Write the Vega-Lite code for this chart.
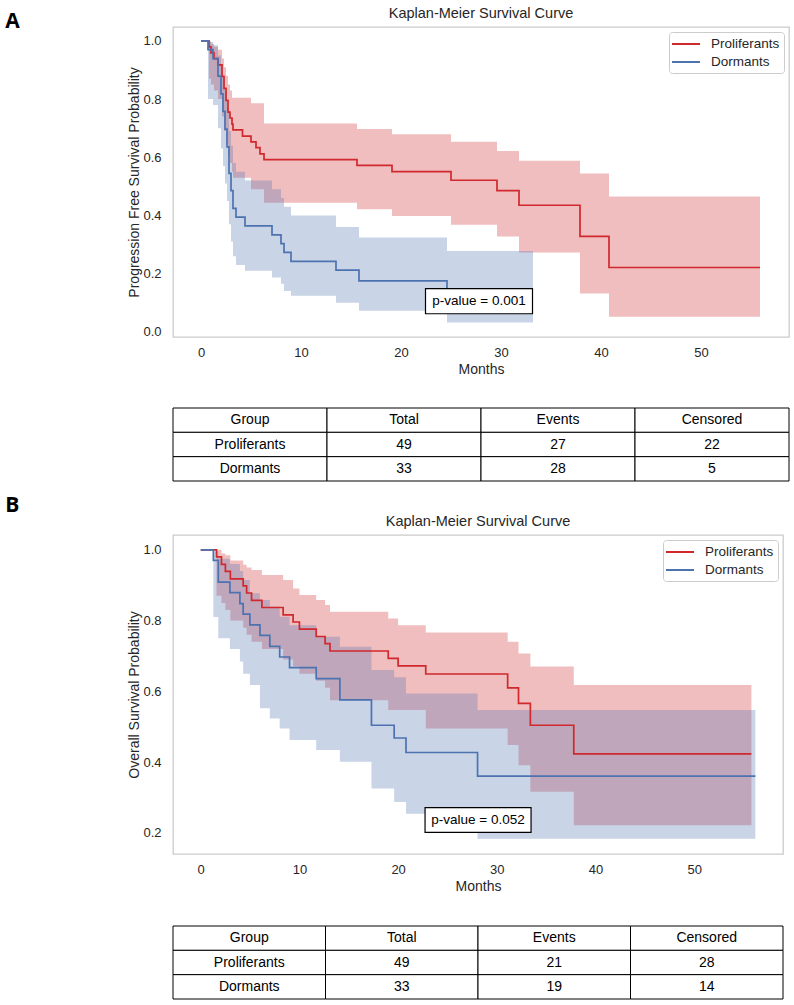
{
  "$schema": "https://vega.github.io/schema/vega-lite/v6.json",
  "background": "white",
  "padding": {"left": 5, "top": 4, "right": 4, "bottom": 5},
  "config": {
    "font": "Liberation Sans",
    "view": {"stroke": "#cccccc", "strokeWidth": 1.3},
    "axis": {"grid": false, "ticks": false, "domain": false, "labelColor": "#262626", "titleColor": "#262626", "labelFontSize": 13, "titleFontSize": 14, "titleFontWeight": "normal", "labelFont": "Liberation Sans", "titleFont": "Liberation Sans"},
    "title": {"fontSize": 14.5, "fontWeight": "normal", "color": "#262626", "font": "Liberation Sans"},
    "legend": {"orient": "top-right", "offset": 5, "padding": 4, "strokeColor": "#cccccc", "fillColor": "white", "cornerRadius": 3, "labelFontSize": 13.5, "labelColor": "#262626", "labelFont": "Liberation Sans", "symbolType": "M-2,0H2", "symbolSize": 196, "symbolStrokeWidth": 2, "symbolOffset": 5, "rowPadding": 3, "labelOffset": 17}
  },
  "resolve": {"scale": {"stroke": "independent", "x": "independent", "y": "independent"}, "legend": {"stroke": "independent"}},
  "datasets": {
    "pfs": [
      {"group": "Proliferants", "month": 0, "surv": 1, "lower": 1, "upper": 1},
      {"group": "Proliferants", "month": 0.8, "surv": 0.980, "lower": 0.87, "upper": 1.0},
      {"group": "Proliferants", "month": 1.0, "surv": 0.959, "lower": 0.85, "upper": 0.99},
      {"group": "Proliferants", "month": 1.3, "surv": 0.939, "lower": 0.83, "upper": 0.98},
      {"group": "Proliferants", "month": 1.7, "surv": 0.918, "lower": 0.80, "upper": 0.97},
      {"group": "Proliferants", "month": 2.1, "surv": 0.878, "lower": 0.74, "upper": 0.94},
      {"group": "Proliferants", "month": 2.3, "surv": 0.837, "lower": 0.69, "upper": 0.91},
      {"group": "Proliferants", "month": 2.5, "surv": 0.796, "lower": 0.65, "upper": 0.88},
      {"group": "Proliferants", "month": 2.7, "surv": 0.755, "lower": 0.61, "upper": 0.85},
      {"group": "Proliferants", "month": 2.9, "surv": 0.735, "lower": 0.58, "upper": 0.83},
      {"group": "Proliferants", "month": 3.1, "surv": 0.714, "lower": 0.55, "upper": 0.805},
      {"group": "Proliferants", "month": 3.2, "surv": 0.694, "lower": 0.53, "upper": 0.805},
      {"group": "Proliferants", "month": 4.15, "surv": 0.673, "lower": 0.53, "upper": 0.805},
      {"group": "Proliferants", "month": 5.0, "surv": 0.653, "lower": 0.49, "upper": 0.786},
      {"group": "Proliferants", "month": 5.5, "surv": 0.633, "lower": 0.49, "upper": 0.786},
      {"group": "Proliferants", "month": 5.9, "surv": 0.612, "lower": 0.49, "upper": 0.786},
      {"group": "Proliferants", "month": 6.3, "surv": 0.592, "lower": 0.444, "upper": 0.716},
      {"group": "Proliferants", "month": 15.6, "surv": 0.572, "lower": 0.421, "upper": 0.697},
      {"group": "Proliferants", "month": 19.1, "surv": 0.551, "lower": 0.398, "upper": 0.679},
      {"group": "Proliferants", "month": 25.0, "surv": 0.521, "lower": 0.368, "upper": 0.653},
      {"group": "Proliferants", "month": 29.6, "surv": 0.485, "lower": 0.328, "upper": 0.622},
      {"group": "Proliferants", "month": 31.8, "surv": 0.435, "lower": 0.273, "upper": 0.588},
      {"group": "Proliferants", "month": 37.9, "surv": 0.328, "lower": 0.132, "upper": 0.544},
      {"group": "Proliferants", "month": 40.8, "surv": 0.221, "lower": 0.052, "upper": 0.465},
      {"group": "Proliferants", "month": 55.9, "surv": 0.221, "lower": 0.052, "upper": 0.465},
      {"group": "Dormants", "month": 0, "surv": 1, "lower": 1, "upper": 1},
      {"group": "Dormants", "month": 0.7, "surv": 0.970, "lower": 0.80, "upper": 0.996},
      {"group": "Dormants", "month": 1.2, "surv": 0.939, "lower": 0.78, "upper": 0.985},
      {"group": "Dormants", "month": 1.7, "surv": 0.879, "lower": 0.70, "upper": 0.95},
      {"group": "Dormants", "month": 2.0, "surv": 0.818, "lower": 0.63, "upper": 0.91},
      {"group": "Dormants", "month": 2.2, "surv": 0.758, "lower": 0.57, "upper": 0.87},
      {"group": "Dormants", "month": 2.4, "surv": 0.697, "lower": 0.51, "upper": 0.82},
      {"group": "Dormants", "month": 2.6, "surv": 0.636, "lower": 0.45, "upper": 0.77},
      {"group": "Dormants", "month": 2.8, "surv": 0.545, "lower": 0.37, "upper": 0.69},
      {"group": "Dormants", "month": 3.0, "surv": 0.485, "lower": 0.31, "upper": 0.64},
      {"group": "Dormants", "month": 3.2, "surv": 0.424, "lower": 0.26, "upper": 0.58},
      {"group": "Dormants", "month": 3.5, "surv": 0.394, "lower": 0.23, "upper": 0.55},
      {"group": "Dormants", "month": 4.4, "surv": 0.364, "lower": 0.21, "upper": 0.52},
      {"group": "Dormants", "month": 7.1, "surv": 0.333, "lower": 0.187, "upper": 0.49},
      {"group": "Dormants", "month": 8.0, "surv": 0.303, "lower": 0.165, "upper": 0.46},
      {"group": "Dormants", "month": 8.3, "surv": 0.273, "lower": 0.14, "upper": 0.43},
      {"group": "Dormants", "month": 9.0, "surv": 0.242, "lower": 0.124, "upper": 0.40},
      {"group": "Dormants", "month": 13.5, "surv": 0.212, "lower": 0.10, "upper": 0.36},
      {"group": "Dormants", "month": 15.8, "surv": 0.175, "lower": 0.072, "upper": 0.324},
      {"group": "Dormants", "month": 24.6, "surv": 0.12, "lower": 0.032, "upper": 0.278},
      {"group": "Dormants", "month": 33.2, "surv": 0.12, "lower": 0.032, "upper": 0.278}
    ],
    "os": [
      {"group": "Proliferants", "month": 0, "surv": 1, "lower": 1, "upper": 1},
      {"group": "Proliferants", "month": 1.6, "surv": 0.980, "lower": 0.87, "upper": 1.0},
      {"group": "Proliferants", "month": 2.1, "surv": 0.959, "lower": 0.85, "upper": 0.99},
      {"group": "Proliferants", "month": 2.5, "surv": 0.939, "lower": 0.83, "upper": 0.985},
      {"group": "Proliferants", "month": 3.0, "surv": 0.918, "lower": 0.80, "upper": 0.97},
      {"group": "Proliferants", "month": 4.3, "surv": 0.898, "lower": 0.78, "upper": 0.958},
      {"group": "Proliferants", "month": 4.65, "surv": 0.878, "lower": 0.76, "upper": 0.95},
      {"group": "Proliferants", "month": 5.15, "surv": 0.857, "lower": 0.74, "upper": 0.943},
      {"group": "Proliferants", "month": 6.2, "surv": 0.837, "lower": 0.72, "upper": 0.929},
      {"group": "Proliferants", "month": 8.35, "surv": 0.816, "lower": 0.69, "upper": 0.915},
      {"group": "Proliferants", "month": 9.36, "surv": 0.796, "lower": 0.67, "upper": 0.891},
      {"group": "Proliferants", "month": 10.0, "surv": 0.776, "lower": 0.65, "upper": 0.872},
      {"group": "Proliferants", "month": 11.7, "surv": 0.755, "lower": 0.63, "upper": 0.858},
      {"group": "Proliferants", "month": 12.6, "surv": 0.735, "lower": 0.61, "upper": 0.844},
      {"group": "Proliferants", "month": 13.1, "surv": 0.714, "lower": 0.575, "upper": 0.825},
      {"group": "Proliferants", "month": 19.0, "surv": 0.693, "lower": 0.547, "upper": 0.806},
      {"group": "Proliferants", "month": 20.0, "surv": 0.672, "lower": 0.547, "upper": 0.787},
      {"group": "Proliferants", "month": 22.8, "surv": 0.649, "lower": 0.495, "upper": 0.766},
      {"group": "Proliferants", "month": 31.1, "surv": 0.610, "lower": 0.448, "upper": 0.740},
      {"group": "Proliferants", "month": 32.2, "surv": 0.566, "lower": 0.391, "upper": 0.707},
      {"group": "Proliferants", "month": 33.4, "surv": 0.504, "lower": 0.316, "upper": 0.670},
      {"group": "Proliferants", "month": 37.8, "surv": 0.423, "lower": 0.221, "upper": 0.618},
      {"group": "Proliferants", "month": 55.8, "surv": 0.423, "lower": 0.221, "upper": 0.618},
      {"group": "Dormants", "month": 0, "surv": 1, "lower": 1, "upper": 1},
      {"group": "Dormants", "month": 1.28, "surv": 0.970, "lower": 0.81, "upper": 0.996},
      {"group": "Dormants", "month": 1.78, "surv": 0.909, "lower": 0.75, "upper": 0.975},
      {"group": "Dormants", "month": 2.96, "surv": 0.879, "lower": 0.72, "upper": 0.96},
      {"group": "Dormants", "month": 3.97, "surv": 0.848, "lower": 0.684, "upper": 0.94},
      {"group": "Dormants", "month": 4.3, "surv": 0.818, "lower": 0.65, "upper": 0.915},
      {"group": "Dormants", "month": 4.98, "surv": 0.788, "lower": 0.618, "upper": 0.877},
      {"group": "Dormants", "month": 6.0, "surv": 0.758, "lower": 0.552, "upper": 0.858},
      {"group": "Dormants", "month": 7.0, "surv": 0.727, "lower": 0.523, "upper": 0.839},
      {"group": "Dormants", "month": 8.0, "surv": 0.697, "lower": 0.495, "upper": 0.811},
      {"group": "Dormants", "month": 9.0, "surv": 0.667, "lower": 0.462, "upper": 0.787},
      {"group": "Dormants", "month": 11.7, "surv": 0.636, "lower": 0.434, "upper": 0.754},
      {"group": "Dormants", "month": 14.1, "surv": 0.576, "lower": 0.401, "upper": 0.726},
      {"group": "Dormants", "month": 17.3, "surv": 0.504, "lower": 0.325, "upper": 0.660},
      {"group": "Dormants", "month": 19.6, "surv": 0.468, "lower": 0.287, "upper": 0.640},
      {"group": "Dormants", "month": 20.8, "surv": 0.427, "lower": 0.254, "upper": 0.594},
      {"group": "Dormants", "month": 28.05, "surv": 0.36, "lower": 0.183, "upper": 0.547},
      {"group": "Dormants", "month": 56.2, "surv": 0.36, "lower": 0.183, "upper": 0.547}
    ],
    "countsPfs": [
      {"row": "Header", "column": "Group", "value": "Group"},
      {"row": "Header", "column": "Total", "value": "Total"},
      {"row": "Header", "column": "Events", "value": "Events"},
      {"row": "Header", "column": "Censored", "value": "Censored"},
      {"row": "Proliferants", "column": "Group", "value": "Proliferants"},
      {"row": "Proliferants", "column": "Total", "value": "49"},
      {"row": "Proliferants", "column": "Events", "value": "27"},
      {"row": "Proliferants", "column": "Censored", "value": "22"},
      {"row": "Dormants", "column": "Group", "value": "Dormants"},
      {"row": "Dormants", "column": "Total", "value": "33"},
      {"row": "Dormants", "column": "Events", "value": "28"},
      {"row": "Dormants", "column": "Censored", "value": "5"}
    ],
    "countsOs": [
      {"row": "Header", "column": "Group", "value": "Group"},
      {"row": "Header", "column": "Total", "value": "Total"},
      {"row": "Header", "column": "Events", "value": "Events"},
      {"row": "Header", "column": "Censored", "value": "Censored"},
      {"row": "Proliferants", "column": "Group", "value": "Proliferants"},
      {"row": "Proliferants", "column": "Total", "value": "49"},
      {"row": "Proliferants", "column": "Events", "value": "21"},
      {"row": "Proliferants", "column": "Censored", "value": "28"},
      {"row": "Dormants", "column": "Group", "value": "Dormants"},
      {"row": "Dormants", "column": "Total", "value": "33"},
      {"row": "Dormants", "column": "Events", "value": "19"},
      {"row": "Dormants", "column": "Censored", "value": "14"}
    ]
  },
  "spacing": 12,
  "vconcat": [
    {
      "title": {"text": "A", "anchor": "start", "frame": "bounds", "fontSize": 21, "fontWeight": "bold", "font": "Open Sans", "color": "black", "dx": -122, "dy": 27, "offset": 0},
      "spacing": 30,
      "resolve": {"scale": {"stroke": "independent"}, "legend": {"stroke": "independent"}},
      "vconcat": [
        {
          "width": 616,
          "height": 310,
          "title": {"text": "Kaplan-Meier Survival Curve", "offset": 6},
          "layer": [
            {
              "data": {"name": "pfs"},
              "transform": [{"filter": "datum.group === 'Proliferants'"}],
              "mark": {"type": "area", "interpolate": "step-after", "fill": "#d0282c", "opacity": 0.3},
              "encoding": {
                "x": {"field": "month", "type": "quantitative", "scale": {"domain": [-2.8, 58.8], "nice": false, "zero": false}, "axis": {"title": "Months", "values": [0, 10, 20, 30, 40, 50], "labelPadding": 9, "titlePadding": 3}},
                "y": {"field": "lower", "type": "quantitative", "stack": null, "scale": {"domain": [-0.018, 1.048], "nice": false, "zero": false}, "axis": {"title": "Progression Free Survival Probability", "values": [0, 0.2, 0.4, 0.6, 0.8, 1.0], "format": ".1f", "labelPadding": 12, "titlePadding": 1}},
                "y2": {"field": "upper"}
              }
            },
            {
              "data": {"name": "pfs"},
              "transform": [{"filter": "datum.group === 'Dormants'"}],
              "mark": {"type": "area", "interpolate": "step-after", "fill": "#4c72b0", "opacity": 0.3},
              "encoding": {
                "x": {"field": "month", "type": "quantitative"},
                "y": {"field": "lower", "type": "quantitative", "stack": null},
                "y2": {"field": "upper"}
              }
            },
            {
              "data": {"name": "pfs"},
              "transform": [{"filter": "datum.group === 'Proliferants'"}],
              "mark": {"type": "line", "interpolate": "step-after", "strokeWidth": 1.7},
              "encoding": {
                "x": {"field": "month", "type": "quantitative"},
                "y": {"field": "surv", "type": "quantitative"},
                "stroke": {"field": "group", "type": "nominal", "scale": {"domain": ["Proliferants", "Dormants"], "range": ["#d0282c", "#4c72b0"]}, "legend": {"title": null}}
              }
            },
            {
              "data": {"name": "pfs"},
              "transform": [{"filter": "datum.group === 'Dormants'"}],
              "mark": {"type": "line", "interpolate": "step-after", "strokeWidth": 1.7},
              "encoding": {
                "x": {"field": "month", "type": "quantitative"},
                "y": {"field": "surv", "type": "quantitative"},
                "stroke": {"field": "group", "type": "nominal"}
              }
            },
            {
              "data": {"values": [{"label": "p-value = 0.001"}]},
              "mark": {"type": "point", "shape": "M-1,-0.234H1V0.234H-1Z", "size": 11449, "filled": true, "fill": "white", "fillOpacity": 1, "stroke": "black", "strokeOpacity": 1, "strokeWidth": 1.2, "opacity": 1},
              "encoding": {"x": {"datum": 27.8, "type": "quantitative"}, "y": {"datum": 0.105, "type": "quantitative"}}
            },
            {
              "data": {"values": [{"label": "p-value = 0.001"}]},
              "mark": {"type": "text", "fontSize": 13.5, "fill": "black"},
              "encoding": {"x": {"datum": 27.8, "type": "quantitative"}, "y": {"datum": 0.105, "type": "quantitative"}, "text": {"field": "label"}}
            }
          ]
        },
        {
          "width": 616,
          "height": 73,
          "view": {"stroke": null},
          "data": {"name": "countsPfs"},
          "encoding": {
            "x": {"field": "column", "type": "nominal", "sort": ["Group", "Total", "Events", "Censored"], "scale": {"paddingInner": 0, "paddingOuter": 0}, "axis": null},
            "y": {"field": "row", "type": "nominal", "sort": ["Header", "Proliferants", "Dormants"], "scale": {"paddingInner": 0, "paddingOuter": 0}, "axis": null}
          },
          "layer": [
            {"mark": {"type": "rect", "fill": "white", "stroke": "black", "strokeWidth": 1}},
            {"mark": {"type": "text", "fontSize": 14, "fill": "black"}, "encoding": {"text": {"field": "value"}}}
          ]
        }
      ]
    },
    {
      "title": {"text": "B", "anchor": "start", "frame": "bounds", "fontSize": 21, "fontWeight": "bold", "font": "Open Sans", "color": "black", "dx": -122, "dy": 3, "offset": 0},
      "spacing": 31,
      "resolve": {"scale": {"stroke": "independent"}, "legend": {"stroke": "independent"}},
      "vconcat": [
        {
          "width": 610,
          "height": 319,
          "title": {"text": "Kaplan-Meier Survival Curve", "offset": 6},
          "layer": [
            {
              "data": {"name": "os"},
              "transform": [{"filter": "datum.group === 'Proliferants'"}],
              "mark": {"type": "area", "interpolate": "step-after", "fill": "#d0282c", "opacity": 0.3},
              "encoding": {
                "x": {"field": "month", "type": "quantitative", "scale": {"domain": [-2.81, 59.0], "nice": false, "zero": false}, "axis": {"title": "Months", "values": [0, 10, 20, 30, 40, 50], "labelPadding": 9, "titlePadding": 3}},
                "y": {"field": "lower", "type": "quantitative", "stack": null, "scale": {"domain": [0.14, 1.042], "nice": false, "zero": false}, "axis": {"title": "Overall Survival Probability", "values": [0.2, 0.4, 0.6, 0.8, 1.0], "format": ".1f", "labelPadding": 12, "titlePadding": 1}},
                "y2": {"field": "upper"}
              }
            },
            {
              "data": {"name": "os"},
              "transform": [{"filter": "datum.group === 'Dormants'"}],
              "mark": {"type": "area", "interpolate": "step-after", "fill": "#4c72b0", "opacity": 0.3},
              "encoding": {
                "x": {"field": "month", "type": "quantitative"},
                "y": {"field": "lower", "type": "quantitative", "stack": null},
                "y2": {"field": "upper"}
              }
            },
            {
              "data": {"name": "os"},
              "transform": [{"filter": "datum.group === 'Proliferants'"}],
              "mark": {"type": "line", "interpolate": "step-after", "strokeWidth": 1.7},
              "encoding": {
                "x": {"field": "month", "type": "quantitative"},
                "y": {"field": "surv", "type": "quantitative"},
                "stroke": {"field": "group", "type": "nominal", "scale": {"domain": ["Proliferants", "Dormants"], "range": ["#d0282c", "#4c72b0"]}, "legend": {"title": null}}
              }
            },
            {
              "data": {"name": "os"},
              "transform": [{"filter": "datum.group === 'Dormants'"}],
              "mark": {"type": "line", "interpolate": "step-after", "strokeWidth": 1.7},
              "encoding": {
                "x": {"field": "month", "type": "quantitative"},
                "y": {"field": "surv", "type": "quantitative"},
                "stroke": {"field": "group", "type": "nominal"}
              }
            },
            {
              "data": {"values": [{"label": "p-value = 0.052"}]},
              "mark": {"type": "point", "shape": "M-1,-0.234H1V0.234H-1Z", "size": 11236, "filled": true, "fill": "white", "fillOpacity": 1, "stroke": "black", "strokeOpacity": 1, "strokeWidth": 1.2, "opacity": 1},
              "encoding": {"x": {"datum": 28.1, "type": "quantitative"}, "y": {"datum": 0.236, "type": "quantitative"}}
            },
            {
              "data": {"values": [{"label": "p-value = 0.052"}]},
              "mark": {"type": "text", "fontSize": 13.5, "fill": "black"},
              "encoding": {"x": {"datum": 28.1, "type": "quantitative"}, "y": {"datum": 0.236, "type": "quantitative"}, "text": {"field": "label"}}
            }
          ]
        },
        {
          "width": 610,
          "height": 73,
          "view": {"stroke": null},
          "data": {"name": "countsOs"},
          "encoding": {
            "x": {"field": "column", "type": "nominal", "sort": ["Group", "Total", "Events", "Censored"], "scale": {"paddingInner": 0, "paddingOuter": 0}, "axis": null},
            "y": {"field": "row", "type": "nominal", "sort": ["Header", "Proliferants", "Dormants"], "scale": {"paddingInner": 0, "paddingOuter": 0}, "axis": null}
          },
          "layer": [
            {"mark": {"type": "rect", "fill": "white", "stroke": "black", "strokeWidth": 1}},
            {"mark": {"type": "text", "fontSize": 14, "fill": "black"}, "encoding": {"text": {"field": "value"}}}
          ]
        }
      ]
    }
  ]
}
